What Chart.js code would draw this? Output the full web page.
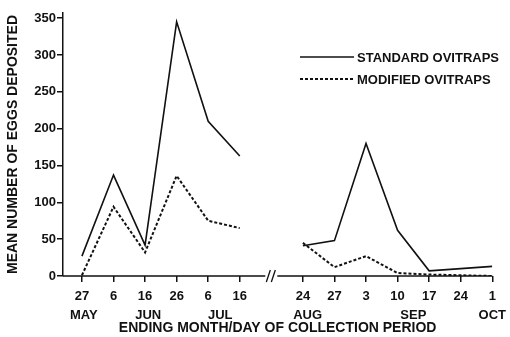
<!DOCTYPE html>
<html>
<head>
<meta charset="utf-8">
<script src="https://cdn.jsdelivr.net/npm/chart.js@4/dist/chart.umd.min.js"></script>
<style>
  html, body { margin: 0; padding: 0; background: #fff; }
  #wrap { width: 510px; height: 337px; }
</style>
</head>
<body>
<div id="wrap"><canvas id="graph" width="510" height="337"></canvas></div>
<script>
'use strict'

// day labels along the axis, '' marks the axis break
let dayLabels = ['27', '6', '16', '26', '6', '16', '', '24', '27', '3', '10', '17', '24', '1'];
let standard = [27, 137, 42, 345, 210, 163, null, 41, 48, 180, 62, 7, 10, 13];
let modified = [1, 94, 32, 136, 75, 65, null, 45, 12, 27, 4, 2, 1, 0];
let monthLabels = ['MAY', 'JUN', 'JUL', 'AUG', 'SEP', 'OCT'];
let monthPos = [0.06, 2.1, 4.38, 7.15, 10.5, 13];
let yTicks = [0, 50, 100, 150, 200, 250, 300, 350];
let breakAt = 6;

let font = 'Liberation Sans, Arial, sans-serif';
let ink = '#111';

function points (arr) {
    return arr.map((v, i) => ({ x: i, y: v }));
}

// x axis line with a // break, plus the legend
let extras = {
    id: 'extras',
    afterDraw (chart) {
        let ctx = chart.ctx;
        let x = chart.scales.x;
        let area = chart.chartArea;
        let yb = area.bottom;
        let bx = x.getPixelForValue(breakAt);
        ctx.save();
        ctx.strokeStyle = ink;
        ctx.lineWidth = 1.5;
        ctx.beginPath();
        ctx.moveTo(area.left, yb);
        ctx.lineTo(bx - 6, yb);
        ctx.moveTo(bx + 6, yb);
        ctx.lineTo(area.right, yb);
        ctx.stroke();
        ctx.lineWidth = 1.3;
        ctx.beginPath();
        ctx.moveTo(bx - 5, yb + 6);
        ctx.lineTo(bx - 1, yb - 6);
        ctx.moveTo(bx + 0, yb + 6);
        ctx.lineTo(bx + 4, yb - 6);
        ctx.stroke();

        // legend
        let items = chart.data.datasets;
        ctx.font = 'bold 13px ' + font;
        ctx.textBaseline = 'middle';
        ctx.fillStyle = ink;
        for (let i = 0; i < items.length; i++) {
            let ly = 57 + i * 22;
            ctx.lineWidth = items[i].borderWidth;
            ctx.setLineDash(items[i].borderDash || []);
            ctx.beginPath();
            ctx.moveTo(300, ly);
            ctx.lineTo(354, ly);
            ctx.stroke();
            ctx.setLineDash([]);
            ctx.fillText(items[i].label, 357, ly + 1);
        }
        ctx.restore();
    }
};

new Chart('graph', {
    type: 'line',
    data: {
        datasets: [{
            label: 'STANDARD OVITRAPS',
            data: points(standard),
            borderColor: ink,
            borderWidth: 1.6,
            pointRadius: 0,
            spanGaps: false,
            tension: 0
        }, {
            label: 'MODIFIED OVITRAPS',
            data: points(modified),
            borderColor: ink,
            borderWidth: 2,
            borderDash: [3, 2],
            pointRadius: 0,
            spanGaps: false,
            tension: 0
        }]
    },
    options: {
        responsive: false,
        animation: false,
        layout: { padding: { top: 13, right: 17, left: 0, bottom: 0 } },
        plugins: {
            legend: { display: false },
            tooltip: { enabled: false }
        },
        scales: {
            x: {
                type: 'linear',
                position: 'bottom',
                min: -0.6,
                max: 13,
                afterBuildTicks (scale) {
                    scale.ticks = dayLabels.map((l, i) => ({ value: i })).filter(t => t.value !== breakAt);
                },
                afterFit (scale) { scale.height = 28; },
                border: { display: false },
                grid: { drawOnChartArea: false, color: ink, lineWidth: 1.5, tickLength: 6 },
                ticks: {
                    autoSkip: false,
                    maxRotation: 0,
                    padding: 7,
                    color: ink,
                    font: { family: font, size: 13, weight: 'bold' },
                    callback: (v) => dayLabels[v]
                }
            },
            month: {
                type: 'linear',
                position: 'bottom',
                min: -0.6,
                max: 13,
                afterBuildTicks (scale) {
                    scale.ticks = monthPos.map(v => ({ value: v }));
                },
                afterFit (scale) { scale.height = 33; },
                border: { display: false },
                grid: { display: false, drawTicks: false },
                ticks: {
                    autoSkip: false,
                    maxRotation: 0,
                    padding: 4,
                    color: ink,
                    font: { family: font, size: 13, weight: 'bold' },
                    callback: (v, i) => monthLabels[i]
                },
                title: {
                    display: true,
                    text: 'ENDING MONTH/DAY OF COLLECTION PERIOD',
                    color: ink,
                    font: { family: font, size: 14, weight: 'bold' },
                    padding: { top: 0, bottom: 0 }
                }
            },
            y: {
                min: 0,
                max: 357,
                afterBuildTicks (scale) {
                    scale.ticks = yTicks.map(v => ({ value: v }));
                },
                afterFit (scale) { scale.width = 63; },
                border: { display: true, color: ink, width: 1.5 },
                grid: { drawOnChartArea: false, color: ink, lineWidth: 1.5, tickLength: 6 },
                ticks: {
                    padding: 1,
                    color: ink,
                    font: { family: font, size: 13, weight: 'bold' }
                },
                title: {
                    display: true,
                    text: 'MEAN NUMBER OF EGGS DEPOSITED',
                    color: ink,
                    font: { family: font, size: 14, weight: 'bold' },
                    padding: { top: 5, bottom: 0 }
                }
            }
        }
    },
    plugins: [extras]
});
</script>
</body>
</html>
